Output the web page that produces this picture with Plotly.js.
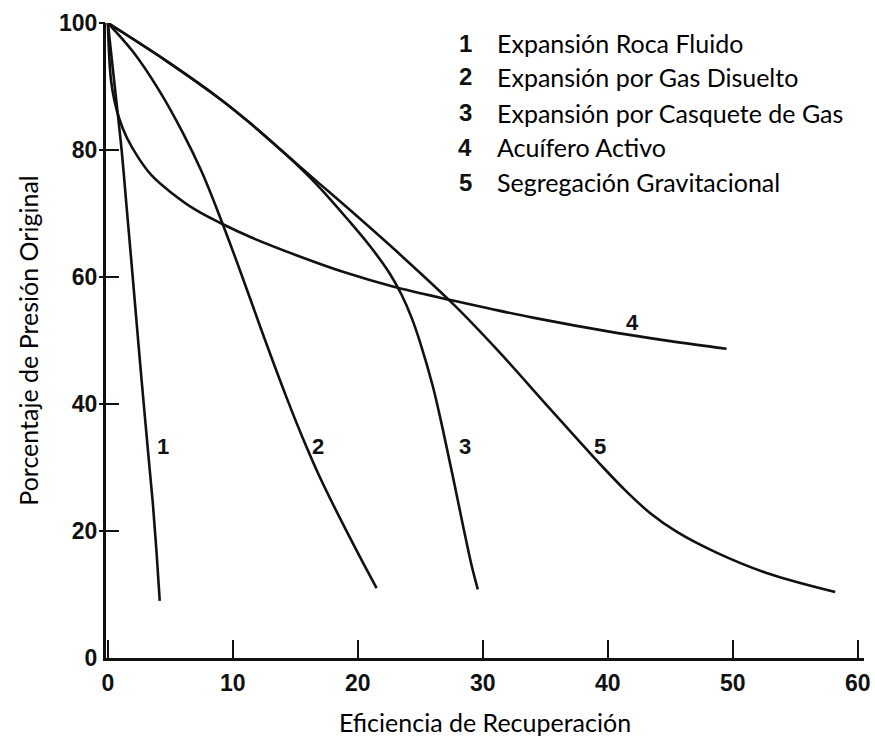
<!DOCTYPE html>
<html>
<head>
<meta charset="utf-8">
<script src="https://cdn.plot.ly/plotly-3.0.1.min.js"></script>
<style>html,body{margin:0;padding:0;background:#fff;}#chart{width:875px;height:743px;}</style>
</head>
<body>
<div id="chart"></div>
<script>
// Curve 1: Expansión Roca Fluido
const x1 = [0, 0.55, 1.1, 1.5, 1.9, 2.4, 2.8, 3.2, 3.6, 3.9, 4.15];
const y1 = [100, 90, 80, 71, 62, 50.5, 41.5, 32.8, 24.3, 16.5, 9];
// Curve 2: Expansión por Gas Disuelto
const x2 = [0, 2.0, 4.0, 6.0, 7.5, 9.0, 10.3, 11.2, 12.7, 14.3, 15.6, 17.0, 18.6, 20.2, 21.5];
const y2 = [100, 95.5, 89.7, 82.7, 76.6, 69.3, 62.5, 57.6, 49.4, 41.0, 34.6, 28.3, 21.9, 15.8, 11.0];
// Curve 3: Expansión por Casquete de Gas
const x3 = [0, 4.7, 9.0, 11.4, 14.3, 16.7, 19.4, 21.0, 22.5, 23.5, 24.3, 25.0, 26.0, 26.8, 27.6, 28.4, 29.1, 29.6];
const y3 = [100, 94.0, 88.0, 84.2, 79.2, 74.6, 68.6, 64.8, 60.7, 57.2, 53.6, 49.6, 42.8, 36.0, 28.6, 21.0, 14.6, 10.8];
// Curve 4: Acuífero Activo
const x4 = [0, 0.1, 0.25, 0.5, 0.9, 1.5, 2.5, 3.5, 5.0, 7.0, 9.0, 11.4, 15.4, 19.0, 22.8, 27.6, 30.6, 34.0, 40.7, 45.0, 49.5];
const y4 = [100, 95, 91, 88, 85, 82, 78.6, 76, 73.4, 70.6, 68.5, 66.3, 63.2, 60.7, 58.5, 56.3, 55.0, 53.6, 51.2, 49.9, 48.7];
// Curve 5: Segregación Gravitacional
const x5 = [0, 4.7, 9.0, 11.4, 14.3, 16.7, 19.4, 23.4, 27.7, 31.4, 35.4, 39.4, 41.4, 43.4, 45.5, 48.7, 52.7, 58.2];
const y5 = [100, 94.0, 88.0, 84.2, 79.2, 75.1, 70.5, 63.5, 55.6, 48.0, 39.2, 30.5, 26.4, 22.8, 19.9, 16.6, 13.4, 10.4];

const curveNums = ['1', '2', '3', '4', '5'];
const curveNames = ['Expansión Roca Fluido', 'Expansión por Gas Disuelto', 'Expansión por Casquete de Gas', 'Acuífero Activo', 'Segregación Gravitacional'];
const xTicks = [0, 10, 20, 30, 40, 50, 60];
const yTicks = [0, 20, 40, 60, 80, 100];

const INK = '#111';
const lineStyle = {color: INK, width: 2.6, shape: 'spline', smoothing: 1};
const xs = [x1, x2, x3, x4, x5];
const ys = [y1, y2, y3, y4, y5];
const traces = xs.map((x, i) => ({
  x: x, y: ys[i], type: 'scatter', mode: 'lines', name: curveNames[i],
  line: lineStyle, cliponaxis: false, hoverinfo: 'skip',
  yaxis: i === 0 ? 'y2' : 'y'
}));

// positions of curve labels and legend rows (layout only)
const labelPos = [[4.42, 33.3], [16.8, 33.3], [28.56, 33.3], [42.0, 52.9], [39.4, 33.3]];
const legendRowY = [96.8, 91.5, 85.9, 80.4, 74.9];
const annotations = [];
curveNums.forEach((n, i) => {
  annotations.push({x: labelPos[i][0], y: labelPos[i][1], xref: 'x', yref: 'y', text: n, showarrow: false,
    xanchor: 'center', yanchor: 'middle', font: {family: 'Liberation Sans, Arial', size: 22, weight: 'bold', color: INK}});
  annotations.push({x: 28.6, y: legendRowY[i], xref: 'x', yref: 'y', text: n, showarrow: false,
    xanchor: 'center', yanchor: 'middle', font: {family: 'Liberation Sans, Arial', size: 24, weight: 'bold', color: INK}});
  annotations.push({x: 30.96, y: legendRowY[i], xref: 'x', yref: 'y', text: curveNames[i], showarrow: false,
    xanchor: 'left', yanchor: 'middle', font: {family: 'Lato, Open Sans, sans-serif', size: 25, color: '#000'}});
});

const tickFont = {family: 'Liberation Sans, Arial', size: 23, weight: 'bold', color: INK};
const layout = {
  width: 875, height: 743,
  margin: {l: 106, r: 11, t: 23, b: 85},
  paper_bgcolor: '#fff', plot_bgcolor: '#fff',
  showlegend: false,
  xaxis: {
    range: [-0.15, 60.5], tickvals: xTicks, ticktext: xTicks.map(String),
    ticks: 'inside', ticklen: 18, tickwidth: 2.5, tickcolor: INK,
    showline: true, linewidth: 3, linecolor: INK, showgrid: false, zeroline: false,
    tickfont: tickFont, ticklabelstandoff: 2,
    title: {text: 'Eficiencia de Recuperación', font: {family: 'Lato, Open Sans, sans-serif', size: 25, color: '#000'}, standoff: 20}
  },
  yaxis: {
    range: [0, 100], tickvals: yTicks, ticktext: yTicks.map(String),
    ticks: 'inside', ticklen: 13, tickwidth: 2.5, tickcolor: INK,
    showline: true, linewidth: 3, linecolor: INK, showgrid: false, zeroline: false,
    tickfont: tickFont, ticklabelstandoff: 1,
    title: {text: 'Porcentaje de Presión Original', font: {family: 'Lato, Open Sans, sans-serif', size: 25, color: '#000'}, standoff: 14}
  },
  yaxis2: {
    overlaying: 'y', side: 'left', range: [0, 100], tickvals: [20, 40, 60, 80, 100],
    ticks: 'outside', ticklen: 6, tickwidth: 2.5, tickcolor: INK,
    showticklabels: false, showline: false, showgrid: false, zeroline: false
  },
  annotations: annotations
};
Plotly.newPlot('chart', traces, layout, {staticPlot: true, displayModeBar: false});
</script>
</body>
</html>
